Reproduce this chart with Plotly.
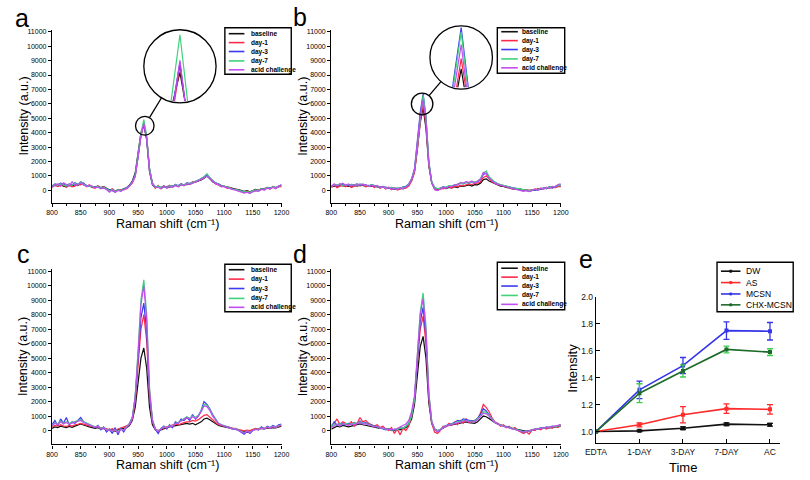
import plotly.graph_objects as go

# ---------------- data ----------------
raman_shift = list(range(800, 1201, 5))
series_names = ["baseline", "day-1", "day-3", "day-7", "acid challenge"]

a_baseline = [280, 350, 320, 380, 300, 250, 360, 300, 400, 330,
              480, 380, 320, 300, 220, 240, 300, 200, 260, 150,
              20, 80, -60, 50, 0, 100, 180, 350, 650, 1200,
              2500, 4000, 4530, 3500, 1300, 400, 180, 250, 200, 300,
              180, 260, 300, 350, 280, 380, 400, 450, 420, 520,
              580, 650, 720, 850, 1000, 820, 600, 480, 450, 320,
              300, 250, 200, 120, 80, 60, 0, -60, -20, -100,
              -20, 60, 0, 120, 100, 150, 140, 220, 200, 260,
              300]
a_day1 = [200, 400, 260, 350, 420, 200, 380, 250, 300, 420,
          380, 500, 250, 380, 200, 150, 320, 120, 250, 80,
          -60, 100, -80, 0, 60, 40, 120, 280, 500, 950,
          2200, 3750, 4600, 3700, 1500, 500, 150, 350, 100, 280,
          250, 350, 200, 420, 260, 450, 320, 500, 400, 600,
          560, 720, 750, 950, 1100, 800, 700, 450, 380, 250,
          300, 150, 200, 50, 100, -20, -40, -150, -60, -120,
          -80, 0, 20, 80, 120, 200, 80, 280, 120, 300,
          250]
a_day3 = [300, 450, 380, 500, 420, 350, 450, 380, 520, 400,
          600, 450, 350, 300, 280, 220, 250, 180, 150, 100,
          0, -20, -120, 60, -40, 120, 160, 320, 600, 1050,
          2300, 3850, 4630, 3650, 1450, 480, 250, 280, 180, 230,
          220, 300, 280, 400, 330, 450, 380, 520, 480, 540,
          650, 680, 820, 920, 1080, 900, 620, 520, 400, 330,
          250, 220, 130, 100, 40, 0, -80, -100, -120, -180,
          -60, 0, -40, 120, 40, 200, 150, 220, 180, 300,
          380]
a_day7 = [260, 420, 350, 450, 380, 300, 420, 350, 480, 380,
          580, 420, 330, 320, 260, 210, 270, 170, 200, 110,
          -20, 40, -100, 40, -20, 90, 160, 320, 580, 1050,
          2400, 3950, 4900, 3800, 1500, 470, 200, 300, 160, 260,
          200, 320, 260, 390, 300, 430, 370, 500, 460, 570,
          640, 720, 800, 950, 1150, 880, 660, 510, 430, 300,
          290, 210, 160, 90, 70, 20, -50, -110, -80, -140,
          -40, 30, -10, 110, 70, 190, 130, 250, 170, 290,
          340]
a_acid = [220, 380, 450, 300, 520, 420, 300, 600, 350, 420,
          500, 380, 280, 360, 300, 180, 240, 150, 180, 60,
          -120, 20, -150, 0, -60, 60, 140, 300, 560, 1000,
          2300, 3800, 4650, 3600, 1350, 420, 220, 200, 120, 300,
          150, 280, 220, 350, 250, 400, 330, 450, 420, 500,
          600, 680, 760, 880, 1000, 820, 640, 480, 400, 280,
          260, 180, 120, 60, 20, -40, -100, -180, -120, -200,
          -100, -20, -60, 60, 20, 150, 100, 200, 150, 260,
          400]

b_baseline = [250, 300, 280, 350, 320, 280, 300, 260, 350, 300,
              380, 320, 300, 350, 280, 300, 250, 200, 280, 150,
              180, 100, 120, 80, 150, 100, 200, 350, 700, 1300,
              2900, 4700, 5730, 4300, 1700, 500, 150, 50, 100, 150,
              120, 200, 180, 250, 200, 300, 280, 350, 380, 300,
              400, 380, 500, 750, 800, 650, 550, 450, 350, 300,
              280, 200, 180, 100, 120, 50, 80, 0, 20, -50,
              50, 0, 100, 80, 150, 120, 200, 180, 220, 250,
              300]
b_day1 = [200, 350, 180, 300, 400, 250, 350, 200, 300, 380,
          300, 400, 250, 300, 350, 200, 300, 150, 250, 100,
          220, 50, 180, 30, 100, 150, 150, 300, 650, 1250,
          2800, 4800, 5970, 4600, 1800, 550, 100, 0, 150, 100,
          180, 250, 150, 300, 250, 350, 320, 400, 450, 400,
          480, 500, 600, 900, 1000, 800, 600, 500, 400, 350,
          300, 250, 150, 150, 80, 100, 20, -30, 50, 0,
          -20, 100, 50, 150, 100, 200, 150, 250, 180, 300,
          250]
b_day3 = [300, 420, 350, 450, 380, 400, 350, 420, 380, 450,
          350, 420, 380, 300, 400, 320, 280, 250, 200, 220,
          150, 200, 100, 150, 120, 250, 280, 450, 800, 1500,
          3300, 5400, 6700, 5100, 2000, 600, 200, 100, 150, 250,
          200, 300, 280, 350, 400, 500, 450, 550, 500, 600,
          550, 600, 750, 1100, 1200, 900, 700, 550, 450, 380,
          350, 300, 250, 200, 150, 100, 50, 20, 0, -50,
          0, 50, 20, 100, 150, 120, 250, 200, 300, 350,
          400]
b_day7 = [280, 400, 380, 420, 350, 420, 380, 400, 420, 400,
          380, 450, 350, 320, 380, 350, 300, 230, 220, 180,
          170, 150, 130, 120, 140, 220, 250, 420, 780, 1450,
          3200, 5300, 6600, 5000, 1950, 580, 180, 120, 130, 220,
          220, 320, 300, 380, 380, 480, 460, 560, 520, 620,
          580, 650, 800, 1200, 1350, 950, 720, 560, 460, 400,
          360, 300, 240, 180, 160, 120, 60, 30, 20, -20,
          30, 40, 60, 120, 130, 150, 220, 230, 280, 330,
          380]
b_acid = [250, 450, 300, 400, 500, 350, 450, 300, 400, 350,
          450, 380, 400, 280, 350, 300, 350, 200, 250, 120,
          200, 80, 150, 50, 180, 120, 220, 380, 750, 1400,
          3100, 5100, 6300, 4800, 1850, 520, 50, -20, 80, 200,
          150, 280, 250, 400, 350, 550, 500, 600, 550, 650,
          500, 620, 780, 1250, 1150, 850, 650, 500, 420, 350,
          320, 250, 200, 150, 100, 80, 0, -60, -20, -80,
          0, 80, 0, 150, 80, 200, 120, 280, 220, 400,
          450]

c_baseline = [150, 250, 200, 300, 250, 200, 280, 220, 300, 350,
              450, 380, 300, 250, 200, 150, 200, 100, 150, 50,
              0, 80, -50, 50, 100, 150, 200, 350, 700, 1600,
              3300, 5000, 5700, 4300, 1600, 400, 50, -50, 50, 150,
              200, 250, 300, 350, 350, 400, 450, 500, 450, 500,
              400, 500, 600, 800, 850, 750, 600, 450, 350, 300,
              250, 200, 150, 100, 80, 50, 0, -50, 0, -30,
              50, 100, 80, 150, 120, 180, 150, 200, 180, 250,
              300]
c_day1 = [250, 350, 300, 400, 300, 280, 350, 300, 400, 420,
          500, 450, 380, 300, 250, 220, 250, 180, 200, 100,
          50, 120, 0, 100, 180, 250, 300, 400, 800, 2000,
          4500, 7000, 8000, 6200, 2300, 600, 100, 0, 100, 200,
          250, 300, 350, 450, 400, 500, 550, 600, 600, 700,
          650, 750, 900, 1050, 1100, 950, 750, 550, 400, 350,
          300, 250, 200, 150, 100, 80, 20, -30, 30, 0,
          80, 150, 100, 200, 150, 220, 200, 250, 220, 300,
          350]
c_day3 = [400, 700, 350, 800, 500, 900, 400, 600, 500, 700,
          900, 600, 500, 400, 300, 200, 350, 50, 250, -100,
          100, -200, 200, -300, 150, -100, 250, 500, 900, 2300,
          5000, 7800, 8800, 6900, 2500, 700, 100, -200, 150, 300,
          100, 400, 200, 600, 500, 800, 700, 900, 700, 1100,
          800, 1000, 1400, 2000, 1800, 1500, 1100, 800, 500, 400,
          350, 300, 200, 100, 150, 0, -100, -250, -50, -200,
          0, 100, 50, 250, 100, 300, 200, 350, 250, 400,
          450]
c_day7 = [300, 550, 450, 650, 500, 600, 500, 550, 600, 650,
          750, 600, 500, 400, 320, 250, 300, 150, 220, 50,
          50, 0, 50, -100, 100, 50, 220, 450, 900, 2400,
          5500, 9000, 10400, 8000, 2900, 750, 120, -50, 120, 250,
          200, 350, 300, 500, 550, 700, 800, 950, 850, 1000,
          900, 1050, 1350, 1800, 1750, 1450, 1050, 750, 500, 400,
          330, 280, 200, 120, 130, 30, -50, -150, -30, -120,
          20, 100, 60, 200, 120, 250, 180, 300, 230, 350,
          400]
c_acid = [350, 500, 400, 600, 450, 550, 450, 500, 550, 600,
          700, 550, 450, 350, 300, 230, 280, 120, 200, 30,
          30, -30, 30, -150, 80, 20, 200, 420, 850, 2300,
          5300, 8700, 10000, 7700, 2800, 700, 100, -80, 100, 230,
          180, 330, 280, 480, 520, 650, 750, 900, 800, 950,
          850, 1000, 1300, 1700, 1650, 1400, 1000, 720, 480, 380,
          310, 260, 180, 100, 110, 10, -70, -170, -50, -140,
          0, 80, 40, 180, 100, 230, 160, 280, 210, 330,
          380]

d_baseline = [100, 200, 300, 250, 350, 300, 250, 300, 350, 400,
              450, 400, 350, 300, 250, 200, 200, 150, 150, 100,
              50, 50, 0, 100, 50, 150, 200, 400, 800, 1800,
              3800, 5800, 6500, 5000, 1900, 500, 100, 0, 50, 200,
              300, 350, 400, 450, 500, 550, 600, 600, 550, 500,
              500, 600, 800, 1000, 950, 850, 700, 550, 450, 350,
              300, 250, 200, 150, 100, 50, 0, -50, -50, 0,
              50, 100, 100, 150, 150, 200, 180, 220, 250, 280,
              300]
d_day1 = [350, 500, 800, 400, 600, 500, 400, 600, 300, 500,
          900, 600, 700, 500, 400, 300, 400, 200, 300, 100,
          0, 200, -200, 100, -300, 150, 0, 300, 1000, 2100,
          4700, 7000, 7900, 6000, 2200, 500, -100, -200, 0, 300,
          250, 500, 350, 600, 400, 700, 500, 800, 550, 700,
          600, 800, 1200, 1800, 1600, 1300, 900, 600, 500, 300,
          400, 200, 300, 100, 200, 0, -100, -200, -100, -250,
          50, 0, 150, 50, 200, 100, 250, 150, 300, 200,
          350]
d_day3 = [250, 600, 350, 500, 400, 450, 500, 400, 550, 450,
          650, 500, 550, 450, 350, 300, 250, 200, 150, 50,
          150, 0, 100, 50, 200, 150, 300, 500, 1100, 2200,
          4900, 7500, 8500, 6500, 2400, 600, 100, -50, 50, 250,
          350, 400, 500, 550, 700, 650, 800, 750, 700, 650,
          700, 850, 1100, 1500, 1350, 1100, 800, 550, 450, 350,
          300, 280, 200, 150, 100, 50, 0, -100, -50, -80,
          20, 120, 80, 200, 150, 250, 200, 300, 250, 350,
          400]
d_day7 = [280, 450, 400, 480, 420, 500, 450, 420, 520, 480,
          600, 520, 500, 420, 350, 280, 260, 180, 170, 80,
          120, 30, 80, 60, 180, 150, 280, 480, 1050, 2150,
          5200, 8200, 9500, 7200, 2600, 650, 120, -30, 60, 230,
          330, 380, 450, 520, 620, 620, 720, 700, 650, 620,
          660, 800, 1000, 1300, 1250, 1050, 780, 560, 450, 350,
          300, 260, 200, 140, 100, 40, -10, -80, -60, -60,
          30, 110, 90, 180, 150, 230, 200, 280, 260, 330,
          380]
d_acid = [200, 350, 450, 300, 500, 400, 350, 450, 400, 500,
          550, 450, 480, 400, 320, 250, 300, 150, 200, 100,
          80, 100, 50, 150, 250, 350, 450, 700, 1300, 2400,
          5100, 8000, 9100, 6900, 2500, 600, 80, -80, 30, 200,
          300, 350, 420, 500, 550, 600, 650, 700, 600, 600,
          620, 750, 950, 1200, 1150, 1000, 750, 550, 430, 330,
          280, 240, 180, 120, 80, 30, -30, -100, -80, -50,
          30, 90, 110, 160, 180, 220, 230, 270, 300, 350,
          420]

time_labels = ["EDTA", "1-DAY", "3-DAY", "7-DAY", "AC"]
group_names = ["DW", "AS", "MCSN", "CHX-MCSN"]
dw_mean = [1.0, 1.005, 1.025, 1.055, 1.05]
dw_err = [0.0, 0.005, 0.01, 0.01, 0.01]
as_mean = [1.0, 1.05, 1.125, 1.17, 1.165]
as_err = [0.0, 0.015, 0.06, 0.035, 0.035]
mcsn_mean = [1.0, 1.31, 1.49, 1.75, 1.745]
mcsn_err = [0.0, 0.065, 0.06, 0.065, 0.065]
chx_mean = [1.0, 1.285, 1.45, 1.61, 1.59]
chx_err = [0.0, 0.07, 0.045, 0.025, 0.025]

# ---------------- styling ----------------
W, H = 810, 480
FONT = "Liberation Sans, Arial, sans-serif"
spec_colors = ["#111111", "#ff2a4a", "#3a3af0", "#3fd27a", "#c24ef0"]
grp_colors = ["#111111", "#ff2a2a", "#3535e8", "#1d6b2a"]
grp_err_colors = ["#111111", "#ff2a2a", "#3535e8", "#3ad04a"]


def px(x):
    return x / W


def py(y):
    return 1 - y / H


fig = go.Figure()

panels = {
    "a": dict(xa="x", ya="y", data=[a_baseline, a_day1, a_day3, a_day7, a_acid],
              xdom=(42, 277), ydom=(25, 200), yr=(-870, 11140)),
    "b": dict(xa="x2", ya="y2", data=[b_baseline, b_day1, b_day3, b_day7, b_acid],
              xdom=(328, 563), ydom=(25, 200), yr=(-870, 11140)),
    "c": dict(xa="x3", ya="y3", data=[c_baseline, c_day1, c_day3, c_day7, c_acid],
              xdom=(42, 277), ydom=(267, 444), yr=(-956, 11137)),
    "d": dict(xa="x4", ya="y4", data=[d_baseline, d_day1, d_day3, d_day7, d_acid],
              xdom=(328, 563), ydom=(267, 444), yr=(-956, 11137)),
}

layout_axes = {}
for key, p in panels.items():
    for name, ys, col in zip(series_names, p["data"], spec_colors):
        fig.add_trace(go.Scatter(x=raman_shift, y=ys, mode="lines", name=name,
                                 line=dict(color=col, width=1.25),
                                 xaxis=p["xa"], yaxis=p["ya"], showlegend=False))
    xn = "xaxis" + p["xa"][1:]
    yn = "yaxis" + p["ya"][1:]
    layout_axes[xn] = dict(domain=[px(p["xdom"][0]), px(p["xdom"][1])], range=[800, 1200],
                           anchor=p["ya"], tickvals=list(range(800, 1201, 50)), tickformat="d",
                           showline=True, linecolor="black", linewidth=1.3,
                           ticks="outside", ticklen=3, tickwidth=1, tickcolor="black",
                           minor=dict(ticks="outside", ticklen=2, dtick=25, tickcolor="black"),
                           tickfont=dict(family=FONT, size=7, color="#000"),
                           showgrid=False, zeroline=False, fixedrange=True)
    layout_axes[yn] = dict(domain=[py(p["ydom"][1]), py(p["ydom"][0])], range=list(p["yr"]),
                           anchor=p["xa"], tickvals=list(range(0, 11001, 1000)), tickformat="d",
                           showline=True, linecolor="black", linewidth=1.3,
                           ticks="outside", ticklen=3, tickwidth=1, tickcolor="black",
                           tickfont=dict(family=FONT, size=7, color="#000"),
                           showgrid=False, zeroline=False, fixedrange=True)

# insets (magnified peaks)
insets = [
    dict(xa="x6", ya="y6", data=panels["a"]["data"], xdom=(150, 196), ydom=(28, 97),
         xr=(951.3, 968.7), yr=(4250, 4920)),
    dict(xa="x7", ya="y7", data=panels["b"]["data"], xdom=(438, 484), ydom=(22, 83),
         xr=(946, 974), yr=(5300, 6720)),
]
for ins in insets:
    for name, ys, col in zip(series_names, ins["data"], spec_colors):
        fig.add_trace(go.Scatter(x=raman_shift, y=ys, mode="lines", name=name,
                                 line=dict(color=col, width=1.2),
                                 xaxis=ins["xa"], yaxis=ins["ya"], showlegend=False))
    layout_axes["xaxis" + ins["xa"][1:]] = dict(domain=[px(ins["xdom"][0]), px(ins["xdom"][1])],
                                                range=list(ins["xr"]), anchor=ins["ya"], visible=False,
                                                fixedrange=True)
    layout_axes["yaxis" + ins["ya"][1:]] = dict(domain=[py(ins["ydom"][1]), py(ins["ydom"][0])],
                                                range=list(ins["yr"]), anchor=ins["xa"], visible=False,
                                                fixedrange=True)

# panel e
e_x = list(range(len(time_labels)))
for name, m, e, c, ec in zip(group_names, [dw_mean, as_mean, mcsn_mean, chx_mean],
                             [dw_err, as_err, mcsn_err, chx_err], grp_colors, grp_err_colors):
    fig.add_trace(go.Scatter(x=e_x, y=m, mode="lines+markers", name=name,
                             line=dict(color=c, width=1.6),
                             marker=dict(color=c, size=4, symbol="square"),
                             error_y=dict(type="data", array=e, color=ec, thickness=1.3, width=3),
                             xaxis="x5", yaxis="y5", showlegend=False))
layout_axes["xaxis5"] = dict(domain=[px(599), px(787)], range=[0, 4.22], anchor="y5",
                             tickvals=e_x, ticktext=time_labels,
                             showline=True, linecolor="black", linewidth=1.4,
                             ticks="inside", ticklen=4, tickcolor="black",
                             tickfont=dict(family=FONT, size=8.5, color="#111"),
                             showgrid=False, zeroline=False, fixedrange=True)
layout_axes["yaxis5"] = dict(domain=[py(443), py(295)], range=[0.912, 2.0], anchor="x5",
                             tickvals=[1.0, 1.2, 1.4, 1.6, 1.8, 2.0], tickformat=".1f",
                             showline=True, linecolor="black", linewidth=1.4,
                             ticks="inside", ticklen=4, tickcolor="black",
                             tickfont=dict(family=FONT, size=8.5, color="#111"),
                             showgrid=False, zeroline=False, fixedrange=True)

shapes = []
annotations = []


def ann(text, x, y, size, **kw):
    d = dict(text=text, x=px(x), y=py(y), xref="paper", yref="paper", showarrow=False,
             xanchor="center", yanchor="middle",
             font=dict(family=FONT, size=size, color=kw.pop("color", "black")))
    d.update(kw)
    annotations.append(d)


# panel letters
for letter, (lx, ly) in zip("abcde", [(11, 13), (296, 12), (13, 252), (296, 252), (589, 257)]):
    ann(letter, lx, ly, 25)

# axis titles for spectra
for (cx, ty, yx, yy) in [(160, 221, 13, 112), (446, 221, 299, 112),
                         (160, 465, 13, 355), (446, 465, 299, 355)]:
    ann("Raman shift (cm⁻¹)", cx, ty, 12.5)
    ann("Intensity (a.u.)", yx, yy, 12.5, textangle=-90)
ann("Time", 688, 467, 13)
ann("Intensity", 575, 367, 13, textangle=-90)

# manual legends for spectra
spec_legends = [
    dict(box=(219, 23, 287, 70), lx=(223, 239), tx=244, ys=[29, 38, 47, 56.5, 65.5]),
    dict(box=(498, 23, 567, 69), lx=(502, 519), tx=521, ys=[27, 36, 45, 54.5, 63.5]),
    dict(box=(219, 262, 287, 310), lx=(223, 239), tx=244, ys=[267.5, 277, 286.5, 296.5, 305.5]),
    dict(box=(498, 260, 567, 308), lx=(502, 519), tx=521, ys=[266, 275, 284, 293.5, 302.5]),
]
for lg in spec_legends:
    x0, y0, x1, y1 = lg["box"]
    shapes.append(dict(type="rect", xref="paper", yref="paper", x0=px(x0), x1=px(x1),
                       y0=py(y1), y1=py(y0), line=dict(color="black", width=1.4),
                       fillcolor="white", layer="above"))
    for name, col, yy in zip(series_names, spec_colors, lg["ys"]):
        shapes.append(dict(type="line", xref="paper", yref="paper", x0=px(lg["lx"][0]),
                           x1=px(lg["lx"][1]), y0=py(yy), y1=py(yy),
                           line=dict(color=col, width=1.6), layer="above"))
        ann("<b>" + name + "</b>", lg["tx"], yy, 6.5, xanchor="left")

# legend for panel e
shapes.append(dict(type="rect", xref="paper", yref="paper", x0=px(723), x1=px(801),
                   y0=py(310), y1=py(260), line=dict(color="black", width=1.4),
                   fillcolor="white", layer="above"))
for name, col, yy in zip(group_names, grp_colors, [269, 280.5, 292, 303]):
    shapes.append(dict(type="line", xref="paper", yref="paper", x0=px(727), x1=px(747),
                       y0=py(yy), y1=py(yy), line=dict(color=col, width=1.6), layer="above"))
    shapes.append(dict(type="rect", xref="paper", yref="paper", x0=px(736), x1=px(738),
                       y0=py(yy + 1), y1=py(yy - 1), line=dict(color=col, width=1),
                       fillcolor=col, layer="above"))
    ann(name, 751, yy, 8.5, xanchor="left")

# magnifier circles
for (cx, cy, r) in [(173, 62, 37), (137, 122, 9.5), (461, 53, 32), (421, 100, 11)]:
    shapes.append(dict(type="circle", xref="paper", yref="paper", x0=px(cx - r), x1=px(cx + r),
                       y0=py(cy + r), y1=py(cy - r), line=dict(color="black", width=1.3),
                       layer="above"))
for (x0, y0, x1, y1) in [(141.8, 113.8, 154, 94), (428.1, 91.6, 440.3, 77.4)]:
    shapes.append(dict(type="line", xref="paper", yref="paper", x0=px(x0), x1=px(x1),
                       y0=py(y0), y1=py(y1), line=dict(color="black", width=1.3), layer="above"))

fig.update_layout(width=W, height=H, margin=dict(l=0, r=0, t=0, b=0),
                  paper_bgcolor="white", plot_bgcolor="rgba(0,0,0,0)",
                  showlegend=False, shapes=shapes, annotations=annotations,
                  font=dict(family=FONT), **layout_axes)

fig.write_html("out.html", config={"displayModeBar": False},
               post_script="document.body.style.margin='0';document.body.style.overflow='hidden';")
